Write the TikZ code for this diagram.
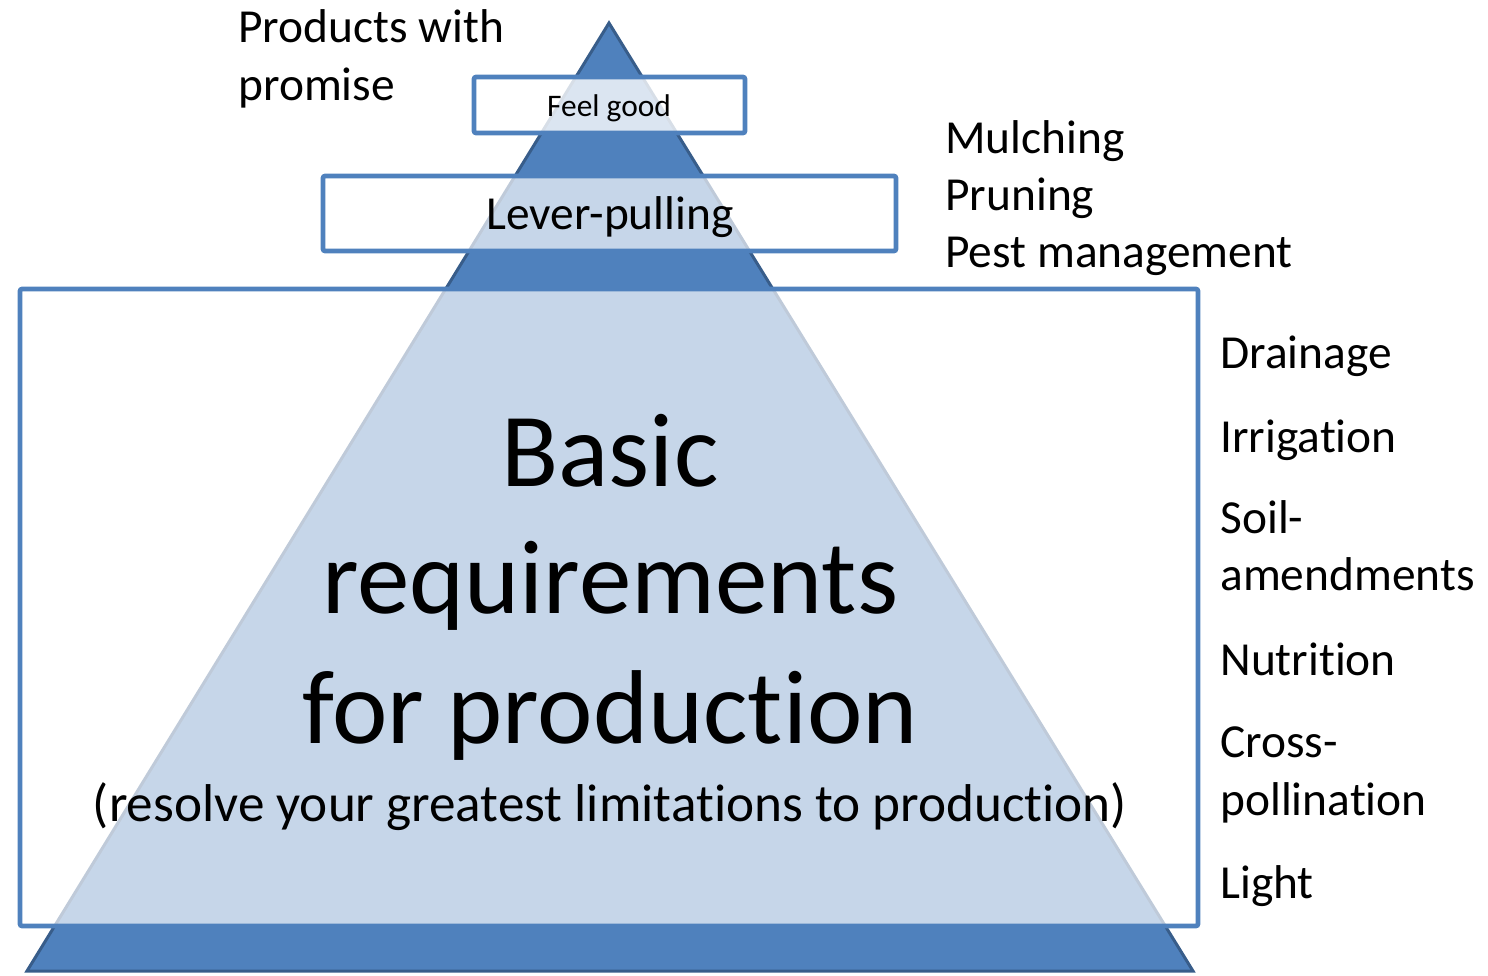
\documentclass[tikz,border=0pt]{standalone}
\usepackage{fontspec}
\setmainfont{Carlito}[RawFeature={-liga;-clig;-calt;-dlig}]
\definecolor{pyr}{HTML}{4F81BD}
\definecolor{pyredge}{HTML}{385D8A}
\begin{document}
\begin{tikzpicture}[x=0.5pt,y=-0.5pt,
  lbl/.style={inner sep=0pt, anchor=base west, font=\fontsize{23.7}{28.5}\selectfont},
  ctr/.style={inner sep=0pt, anchor=base, font=\fontsize{23.7}{28.5}\selectfont},
  big/.style={inner sep=0pt, anchor=base, font=\fontsize{52.5}{63}\selectfont},
  tier/.style={draw=pyr, line width=2.3pt, fill=white, rounded corners=1pt, inner sep=0pt, outer sep=0pt},
  ]
\useasboundingbox (0,0) rectangle (1488,975);
% pyramid
\filldraw[fill=pyr, draw=pyredge, line width=1.5pt] (609,23) -- (1193,971) -- (27,971) -- cycle;
% tier boxes
\node[tier, fill opacity=0.8, minimum width=135.5pt, minimum height=28pt] (feelbox) at (609.5,105) {};
\node[tier, fill opacity=0.68, minimum width=286.5pt, minimum height=37.5pt] (leverbox) at (609.5,213.5) {};
\node[tier, fill opacity=0.68, minimum width=589pt, minimum height=318.5pt] (basebox) at (609,607.5) {};
% texts in the pyramid
\node[inner sep=0pt, anchor=base, font=\fontsize{15.7}{19}\selectfont] (feel) at (609,116) {Feel good};
\node[ctr] (lever) at (610,229) {Lever-pulling};
\node[big] (basic1) at (610,486) {Basic};
\node[big] (basic2) at (610,613) {requirements};
\node[big] (basic3) at (610,743) {for product\kern0pt ion};
\node[inner sep=0pt, anchor=base, font=\fontsize{26.6}{32}\selectfont] (resolve) at (610,821) {(resolve your greatest limit\kern0pt at\kern0pt ions to product\kern0pt ion)};
% side labels
\node[lbl] (prod1) at (238,42) {Products with};
\node[lbl] (prod2) at (238,100) {promise};
\node[lbl] (mul) at (945,153) {Mulching};
\node[lbl] (pru) at (945,210) {Pruning};
\node[lbl] (pest) at (945,267) {Pest management};
\node[lbl] (drain) at (1220,368) {Drainage};
\node[lbl] (irr) at (1220,452) {Irrigation};
\node[lbl] (soil1) at (1220,533) {Soil-};
\node[lbl] (soil2) at (1220,590) {amendments};
\node[lbl] (nut) at (1220,675) {Nutrition};
\node[lbl] (cross1) at (1220,757) {Cross-};
\node[lbl] (cross2) at (1220,815) {pollination};
\node[lbl] (light) at (1220,898) {Light};
\end{tikzpicture}
\end{document}
